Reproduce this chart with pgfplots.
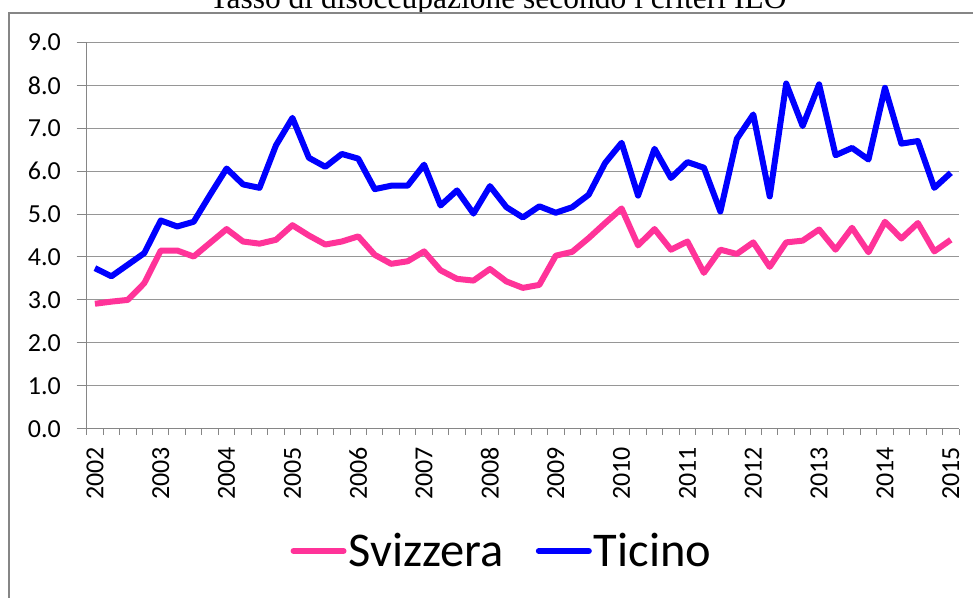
\documentclass[border=0pt]{standalone}
\usepackage{pgfplots}
\pgfplotsset{compat=1.18}
\usepackage{pgfplotstable}
\usepackage{fontspec}
\setmainfont{Carlito}
\newfontfamily\titlefont{Liberation Serif}
\definecolor{pinkline}{RGB}{255,51,153}
\definecolor{blueline}{RGB}{0,0,255}
\definecolor{axgray}{RGB}{134,134,134}
\definecolor{gridgray}{RGB}{150,150,150}

\pgfplotstableread{
i svi tic
0 2.91 3.74
1 2.96 3.55
2 3.00 3.82
3 3.39 4.09
4 4.15 4.85
5 4.15 4.71
6 4.01 4.82
7 4.33 5.45
8 4.65 6.06
9 4.36 5.69
10 4.31 5.61
11 4.40 6.60
12 4.74 7.24
13 4.50 6.31
14 4.29 6.10
15 4.36 6.40
16 4.48 6.29
17 4.05 5.58
18 3.84 5.66
19 3.90 5.66
20 4.13 6.15
21 3.69 5.20
22 3.49 5.55
23 3.45 5.01
24 3.72 5.65
25 3.43 5.16
26 3.28 4.92
27 3.35 5.18
28 4.03 5.03
29 4.12 5.16
30 4.44 5.45
31 4.79 6.19
32 5.13 6.66
33 4.27 5.43
34 4.65 6.52
35 4.17 5.84
36 4.36 6.21
37 3.63 6.08
38 4.17 5.06
39 4.07 6.75
40 4.34 7.32
41 3.77 5.41
42 4.34 8.04
43 4.38 7.05
44 4.64 8.02
45 4.17 6.37
46 4.68 6.54
47 4.11 6.27
48 4.82 7.94
49 4.43 6.64
50 4.79 6.70
51 4.13 5.61
52 4.40 5.96
}\datatable

\begin{document}
\begin{tikzpicture}[x=1pt,y=1pt]
\useasboundingbox (0,0) rectangle (973,597);
\clip (0,0) rectangle (973,597);
\node[anchor=base, inner sep=0pt] at (498,588.5) {\titlefont\fontsize{31.5}{31.5}\selectfont Tasso di disoccupazione secondo i criteri ILO};
\filldraw[fill=white, draw=axgray, line width=2pt] (9.3,-20) rectangle (1000,584);
\begin{axis}[
  at={(86.7pt,168.3pt)}, anchor=south west,
  scale only axis, width=872.3pt, height=386.4pt,
  xmin=-0.5, xmax=52.5, ymin=0, ymax=9,
  axis lines*=left,
  axis line style={-, draw=axgray, line width=1pt},
  tick align=outside,
  major tick length=10pt, minor tick length=6pt,
  tick style={draw=axgray, line width=1pt},
  xtick={0,4,...,52},
  xticklabels={2002,2003,2004,2005,2006,2007,2008,2009,2010,2011,2012,2013,2014,2015},
  major x tick style={draw=none},
  minor xtick={-0.5,0.5,...,52.5},
  ytick={0,1,...,9},
  yticklabels={0.0,1.0,2.0,3.0,4.0,5.0,6.0,7.0,8.0,9.0},
  ymajorgrids,
  major grid style={draw=gridgray, line width=1pt},
  ticklabel style={font=\fontsize{26}{26}\selectfont, text=black},
  xticklabel style={inner sep=0pt, anchor=east, yshift=-8pt, rotate=90},
  yticklabel style={inner sep=0pt, xshift=-15.7pt},
  legend columns=2,
  legend style={at={(0.476,-0.3165)}, anchor=center, draw=none, fill=none,
    font=\fontsize{48.5}{48.5}\selectfont,
    /tikz/every even column/.append style={column sep=30pt}},
  legend image code/.code={\draw[#1, line width=6pt, line cap=round] (3pt,0pt) -- (53pt,0pt);},
]
\addplot[pinkline, line width=6pt, line join=round] table[x=i, y=svi] {\datatable};
\addlegendentry{Svizzera}
\addplot[blueline, line width=6pt, line join=round] table[x=i, y=tic] {\datatable};
\addlegendentry{Ticino}
\end{axis}
\end{tikzpicture}
\end{document}
